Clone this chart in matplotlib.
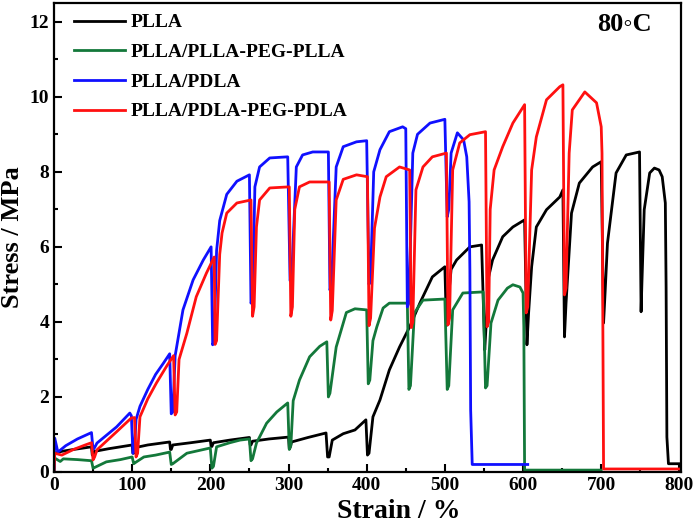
import matplotlib
matplotlib.use("Agg")
import matplotlib.pyplot as plt
from matplotlib.ticker import MultipleLocator

plt.rcParams['font.family'] = ['Liberation Serif', 'DejaVu Serif']
plt.rcParams['font.weight'] = 'bold'

# PLLA
pl_x = [0, 1, 10, 25, 48, 49, 50, 52, 70, 85, 100, 101, 102, 104, 120, 148, 149, 150, 152,
        175, 200, 201, 202, 204, 225, 250, 251, 252, 254, 275, 300, 301, 302, 304, 325, 348,
        350, 352, 356, 370, 385, 399, 401, 403, 408, 417, 429, 442, 455, 468, 484, 500, 502,
        504, 508, 515, 532, 547, 551, 553, 556, 561, 574, 587, 602, 605, 607, 611, 617, 630,
        647, 651, 653, 655, 662, 672, 689, 700, 703, 705, 708, 719, 732, 749, 751, 752, 755,
        762, 768, 774, 778, 782, 783, 784, 786, 800]
pl_y = [0, 0.5, 0.55, 0.6, 0.67, 0.45, 0.45, 0.55, 0.62, 0.67, 0.72, 0.5, 0.5, 0.65, 0.72,
        0.8, 0.6, 0.6, 0.72, 0.78, 0.85, 0.68, 0.68, 0.78, 0.85, 0.92, 0.72, 0.72, 0.82, 0.88,
        0.93, 0.62, 0.65, 0.8, 0.92, 1.04, 0.4, 0.4, 0.85, 1.02, 1.12, 1.39, 0.45, 0.5, 1.47,
        1.92, 2.72, 3.33, 3.87, 4.5, 5.2, 5.47, 3.9, 4.5, 5.4, 5.65, 6.0, 6.05, 3.25, 4.0, 5.2,
        5.65, 6.27, 6.53, 6.72, 3.39, 4.2, 5.47, 6.53, 6.99, 7.33, 7.52, 3.6, 4.5, 6.9, 7.7,
        8.13, 8.27, 3.97, 4.8, 6.1, 7.97, 8.45, 8.53, 4.27, 5.0, 6.99, 7.97, 8.1, 8.05, 7.87,
        7.17, 4.93, 0.93, 0.22, 0.22]

# PLLA/PLLA-PEG-PLLA
pp_x = [0, 1, 8, 12, 30, 48, 50, 52, 67, 85, 100, 102, 104, 115, 130, 148, 150, 152, 170,
        185, 200, 202, 204, 208, 225, 238, 250, 252, 254, 259, 272, 285, 299, 301, 303, 306,
        314, 327, 340, 349, 351, 353, 361, 374, 385, 400, 402, 404, 408, 413, 421, 429, 452,
        454, 456, 461, 472, 500, 503, 505, 510, 523, 549, 552, 554, 559, 568, 580, 587, 596,
        600, 601, 602, 700]
pp_y = [0, 0.37, 0.28, 0.35, 0.33, 0.3, 0.1, 0.12, 0.27, 0.33, 0.4, 0.22, 0.25, 0.4, 0.45,
        0.53, 0.2, 0.22, 0.5, 0.57, 0.64, 0.1, 0.15, 0.67, 0.78, 0.85, 0.88, 0.3, 0.35, 0.77,
        1.3, 1.6, 1.84, 0.6, 0.7, 1.9, 2.45, 3.07, 3.35, 3.47, 2.0, 2.1, 3.33, 4.25, 4.35,
        4.32, 2.35, 2.45, 3.5, 3.87, 4.37, 4.5, 4.5, 2.2, 2.3, 4.24, 4.58, 4.61, 2.2, 2.3,
        4.32, 4.77, 4.8, 2.24, 2.3, 3.97, 4.58, 4.9, 4.99, 4.93, 4.77, 3.87, 0.05, 0.05]

# PLLA/PDLA
pd_x = [0, 1, 5, 15, 30, 48, 50, 52, 55, 80, 97, 99, 101, 103, 105, 110, 120, 130, 140, 148,
        150, 152, 155, 165, 178, 191, 201, 203, 205, 208, 212, 221, 234, 250, 252, 254, 257,
        263, 276, 299, 302, 304, 310, 318, 331, 351, 353, 355, 361, 370, 387, 400, 403, 405,
        409, 417, 429, 446, 450, 452, 454, 459, 465, 481, 500, 503, 505, 508, 516, 524, 528,
        531, 532, 533, 535, 606]
pd_y = [0, 0.9, 0.53, 0.7, 0.88, 1.05, 0.6, 0.65, 0.77, 1.2, 1.57, 1.5, 0.5, 0.6, 1.4, 1.75,
        2.2, 2.6, 2.9, 3.15, 1.55, 1.6, 3.1, 4.32, 5.12, 5.65, 6.0, 3.39, 3.5, 5.9, 6.7, 7.4,
        7.75, 7.92, 4.5, 4.6, 7.6, 8.13, 8.37, 8.4, 5.1, 5.2, 8.13, 8.45, 8.53, 8.53, 4.85,
        5.0, 8.13, 8.67, 8.8, 8.83, 5.0, 5.2, 8.0, 8.59, 9.07, 9.2, 9.15, 4.4, 4.5, 8.5, 9.0,
        9.3, 9.4, 6.8, 7.0, 8.5, 9.04, 8.85, 8.4, 7.2, 5.4, 1.65, 0.2, 0.2]

# PLLA/PDLA-PEG-PDLA
pe_x = [0, 1, 10, 25, 40, 48, 50, 52, 55, 80, 99, 103, 105, 107, 110, 120, 131, 145, 153,
        155, 157, 160, 170, 182, 195, 205, 206, 208, 212, 215, 221, 234, 252, 254, 256, 259,
        263, 276, 301, 303, 305, 308, 314, 327, 352, 354, 356, 361, 370, 387, 401, 403, 405,
        410, 417, 425, 442, 455, 457, 459, 463, 472, 484, 502, 504, 506, 510, 519, 532, 552,
        554, 556, 558, 563, 574, 587, 602, 604, 606, 611, 617, 630, 647, 651, 653, 655, 659,
        663, 679, 694, 700, 701, 703, 800]
pe_y = [0, 0.5, 0.45, 0.6, 0.72, 0.78, 0.32, 0.4, 0.59, 1.07, 1.44, 1.45, 0.4, 0.5, 1.47,
        1.95, 2.37, 2.85, 3.1, 1.52, 1.6, 3.0, 3.7, 4.67, 5.3, 5.73, 3.4, 3.5, 5.8, 6.37,
        6.9, 7.17, 7.25, 4.15, 4.4, 6.53, 7.25, 7.57, 7.6, 4.15, 4.4, 7.0, 7.6, 7.73, 7.73,
        4.05, 4.3, 7.25, 7.8, 7.92, 7.87, 3.9, 4.1, 6.5, 7.33, 7.87, 8.13, 8.05, 3.85, 4.0,
        7.52, 8.13, 8.4, 8.5, 3.92, 4.1, 8.05, 8.77, 8.99, 9.07, 3.87, 4.0, 7.0, 8.05, 8.67,
        9.3, 9.79, 4.24, 4.4, 8.05, 8.93, 9.92, 10.27, 10.32, 4.72, 4.9, 8.5, 9.65, 10.13,
        9.84, 9.2, 8.5, 0.08, 0.08]

labels = ['PLLA', 'PLLA/PLLA-PEG-PLLA', 'PLLA/PDLA', 'PLLA/PDLA-PEG-PDLA']
colors = ['black', '#13783a', '#1010ff', '#ff1010']

fig = plt.figure(figsize=(7, 5.27), dpi=100)
ax = fig.add_axes([0.0771, 0.1044, 0.8957, 0.8899])

for xs, ys, lab, c in zip([pl_x, pp_x, pd_x, pe_x], [pl_y, pp_y, pd_y, pe_y], labels, colors):
    ax.plot(xs, ys, color=c, lw=2.0, label=lab)

ax.set_xlim(0, 802)
ax.set_ylim(0, 12.5)
ax.xaxis.set_major_locator(MultipleLocator(100))
ax.xaxis.set_minor_locator(MultipleLocator(50))
ax.yaxis.set_major_locator(MultipleLocator(2))
ax.yaxis.set_minor_locator(MultipleLocator(1))
ax.tick_params(which='both', direction='in', labelsize=14, width=1.5)
ax.tick_params(which='major', length=6)
ax.tick_params(which='minor', length=3)
ax.tick_params(top=False, right=False)
for s in ax.spines.values():
    s.set_linewidth(1.6)

ax.set_xlabel('Strain / %', fontsize=20, fontweight='bold', labelpad=4)
ax.xaxis.set_label_coords(0.55, -0.058, transform=ax.transAxes)
ax.xaxis.label.set_va('top')
ax.set_ylabel('Stress / MPa', fontsize=19, fontweight='bold', labelpad=4)

ax.legend(loc='upper left', bbox_to_anchor=(0.015, 1.0), frameon=False,
          prop={'size': 14, 'weight': 'bold'}, handlelength=2.6, handletextpad=0.3,
          labelspacing=0.62, borderaxespad=0.15)
ax.text(0.91, 0.955, '80◦C', transform=ax.transAxes, ha='center', va='center',
        fontsize=19, fontweight='bold')

fig.savefig('out.png', dpi=100)
